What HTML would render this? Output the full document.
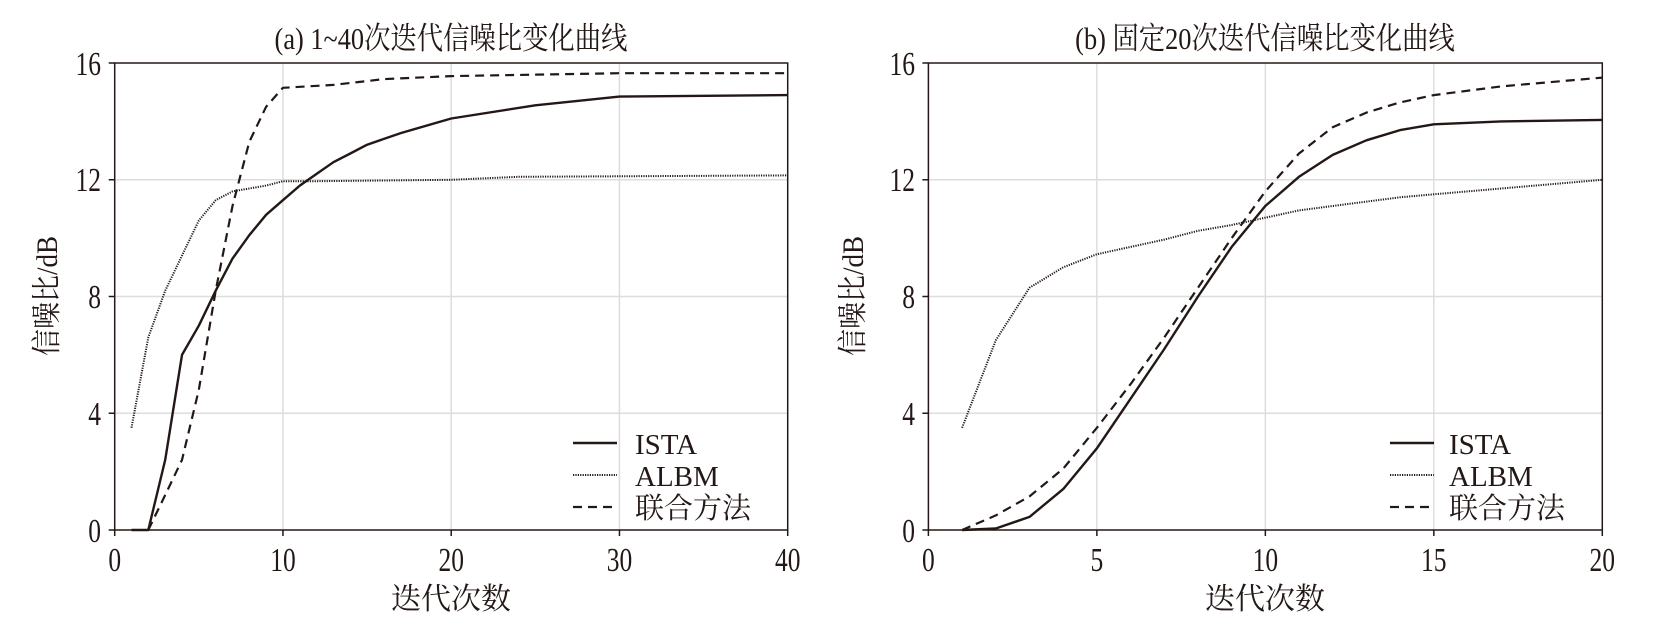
<!DOCTYPE html>
<html><head><meta charset="utf-8"><style>
html,body{margin:0;padding:0;background:#fff;}
svg{display:block}
text{font-family:"Liberation Serif","Noto Serif CJK SC","Noto Sans CJK SC",serif;fill:#231815;}
</style></head><body>
<svg id="s" width="1654" height="623" viewBox="0 0 1654 623" xmlns="http://www.w3.org/2000/svg">
<g id="g"></g>
<text x="451" y="49" font-size="31" text-anchor="middle" transform="translate(451,0) scale(0.85,1) translate(-451,0)">(a) 1~40次迭代信噪比变化曲线</text>
<text x="1265" y="49" font-size="31" text-anchor="middle" transform="translate(1265,0) scale(0.85,1) translate(-1265,0)">(b) 固定20次迭代信噪比变化曲线</text>
<text font-size="30" text-anchor="middle" transform="translate(57,296) rotate(-90) scale(0.9,1)">信噪比/dB</text>
<text font-size="30" text-anchor="middle" transform="translate(863,296) rotate(-90) scale(0.9,1)">信噪比/dB</text>
<text x="451" y="609" font-size="30" text-anchor="middle">迭代次数</text>
<text x="1265" y="609" font-size="30" text-anchor="middle">迭代次数</text>
<g font-size="34" text-anchor="middle">
<text x="114.7" y="571" transform="translate(114.7,0) scale(0.75,1) translate(-114.7,0)">0</text>
<text x="283" y="571" transform="translate(283,0) scale(0.75,1) translate(-283,0)">10</text>
<text x="451.2" y="571" transform="translate(451.2,0) scale(0.75,1) translate(-451.2,0)">20</text>
<text x="619.5" y="571" transform="translate(619.5,0) scale(0.75,1) translate(-619.5,0)">30</text>
<text x="787.7" y="571" transform="translate(787.7,0) scale(0.75,1) translate(-787.7,0)">40</text>
<text x="928.4" y="571" transform="translate(928.4,0) scale(0.75,1) translate(-928.4,0)">0</text>
<text x="1096.9" y="571" transform="translate(1096.9,0) scale(0.75,1) translate(-1096.9,0)">5</text>
<text x="1265.4" y="571" transform="translate(1265.4,0) scale(0.75,1) translate(-1265.4,0)">10</text>
<text x="1433.8" y="571" transform="translate(1433.8,0) scale(0.75,1) translate(-1433.8,0)">15</text>
<text x="1602.3" y="571" transform="translate(1602.3,0) scale(0.75,1) translate(-1602.3,0)">20</text>
</g>
<g font-size="34" text-anchor="end">
<text x="101" y="542" transform="translate(101,0) scale(0.75,1) translate(-101,0)">0</text>
<text x="101" y="425" transform="translate(101,0) scale(0.75,1) translate(-101,0)">4</text>
<text x="101" y="308" transform="translate(101,0) scale(0.75,1) translate(-101,0)">8</text>
<text x="101" y="191" transform="translate(101,0) scale(0.75,1) translate(-101,0)">12</text>
<text x="101" y="75" transform="translate(101,0) scale(0.75,1) translate(-101,0)">16</text>
<text x="915" y="542" transform="translate(915,0) scale(0.75,1) translate(-915,0)">0</text>
<text x="915" y="425" transform="translate(915,0) scale(0.75,1) translate(-915,0)">4</text>
<text x="915" y="308" transform="translate(915,0) scale(0.75,1) translate(-915,0)">8</text>
<text x="915" y="191" transform="translate(915,0) scale(0.75,1) translate(-915,0)">12</text>
<text x="915" y="75" transform="translate(915,0) scale(0.75,1) translate(-915,0)">16</text>
</g>
<g font-size="29">
<text x="635" y="454">ISTA</text><text x="635" y="486">ALBM</text><text x="635" y="518">联合方法</text>
<text x="1449" y="454">ISTA</text><text x="1449" y="486">ALBM</text><text x="1449" y="518">联合方法</text>
</g>
</svg>
<script>
var g=document.getElementById('g'),NS='http://www.w3.org/2000/svg';
function el(t,a){var e=document.createElementNS(NS,t);for(var k in a)e.setAttribute(k,a[k]);g.appendChild(e);return e;}
function panel(x0,x1,xmax,xstep,data,lx){
 var y0=530,y1=63;
 var X=function(v){return x0+(x1-x0)*v/xmax},Y=function(v){return y0-(y0-y1)*v/16};
 for(var v=xstep;v<xmax;v+=xstep)el('line',{x1:X(v),x2:X(v),y1:y1,y2:y0,stroke:'#ddd','stroke-width':1.5});
 for(var v=4;v<16;v+=4)el('line',{x1:x0,x2:x1,y1:Y(v),y2:Y(v),stroke:'#ddd','stroke-width':1.5});
 el('rect',{x:x0,y:y1,width:x1-x0,height:y0-y1,fill:'none',stroke:'#231815','stroke-width':1.5});
 for(var v=0;v<=xmax;v+=xstep)el('line',{x1:X(v),x2:X(v),y1:y0,y2:y0+6,stroke:'#231815','stroke-width':1.5});
 for(var v=0;v<=16;v+=4)el('line',{x1:x0-6,x2:x0,y1:Y(v),y2:Y(v),stroke:'#231815','stroke-width':1.5});
 var st=[{w:2.4,d:''},{w:2,d:'1.2 1.2'},{w:2.2,d:'9 6'}];
 data.forEach(function(s,i){
  var p=s.map(function(q){return X(q[0]).toFixed(1)+','+Y(q[1]).toFixed(1)}).join(' ');
  el('polyline',{points:p,fill:'none',stroke:'#231815','stroke-width':st[i].w,'stroke-dasharray':st[i].d,'stroke-linejoin':'round'});
  el('line',{x1:lx,x2:lx+44,y1:443+32*i,y2:443+32*i,stroke:'#231815','stroke-width':st[i].w,'stroke-dasharray':st[i].d});
 });
}
panel(114.7,787.7,40,10,[
 [[1,0],[2,0],[3,2.4],[4,6],[5,7],[6,8.2],[7,9.3],[8,10.1],[9,10.8],[10,11.3],[11,11.8],[12,12.2],[13,12.6],[14,12.9],[15,13.2],[17,13.6],[20,14.1],[25,14.55],[30,14.85],[40,14.9]],
 [[1,3.5],[2,6.6],[3,8.2],[4,9.4],[5,10.6],[6,11.3],[7,11.6],[8,11.7],[9,11.8],[10,11.95],[12,11.95],[20,12.0],[24,12.1],[40,12.15]],
 [[2,0],[3,1.2],[4,2.4],[5,4.8],[6,8.2],[7,11.1],[8,13.3],[9,14.5],[10,15.15],[13,15.25],[16,15.45],[20,15.55],[30,15.65],[40,15.65]]
],573);
panel(928.4,1602.3,20,5,[
 [[1,0],[2,0.05],[3,0.45],[4,1.4],[5,2.8],[6,4.5],[7,6.2],[8,8.0],[9,9.7],[10,11.1],[11,12.1],[12,12.85],[13,13.35],[14,13.7],[15,13.9],[17,14.0],[20,14.05]],
 [[1,3.5],[2,6.5],[3,8.3],[4,9.0],[5,9.45],[6,9.7],[7,9.95],[8,10.25],[9,10.45],[10,10.7],[11,10.95],[12,11.1],[13,11.25],[14,11.4],[15,11.5],[17,11.7],[20,12.0]],
 [[1,0],[2,0.5],[3,1.15],[4,2.1],[5,3.5],[6,5.0],[7,6.6],[8,8.3],[9,10.0],[10,11.6],[11,12.9],[12,13.8],[13,14.3],[14,14.65],[15,14.9],[17,15.2],[20,15.5]]
],1390);
</script>
</body></html>
